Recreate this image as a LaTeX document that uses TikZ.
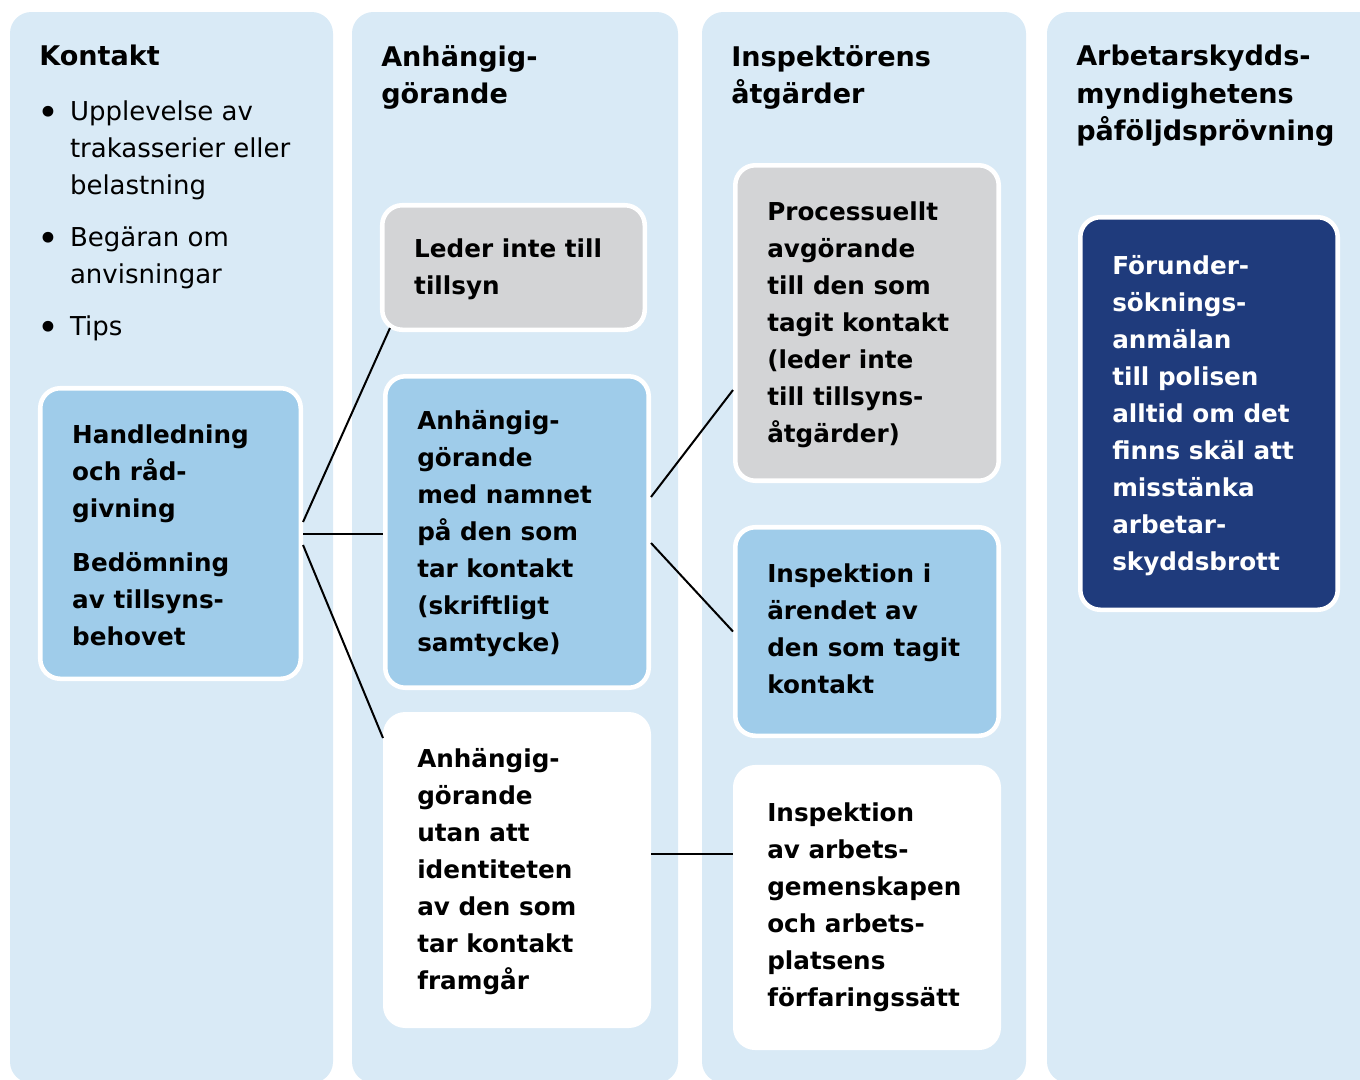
\documentclass[tikz,border=0pt]{standalone}
\usepackage{fontspec}
\setmainfont{DejaVu Sans}
\usetikzlibrary{positioning}

\definecolor{kolumn}{HTML}{D9EAF6}
\definecolor{ljusbla}{HTML}{9FCCEA}
\definecolor{gra}{HTML}{D3D4D6}
\definecolor{marin}{HTML}{1F3B7C}

\newcommand{\punkt}{\makebox[22.3pt][l]{\hspace*{-2.3pt}\raisebox{-4.3pt}{\fontsize{27.8pt}{27.8pt}\selectfont•}}}

\tikzset{
  kolumnbg/.style={fill=kolumn, rounded corners=16pt},
  rubrik/.style={anchor=north west, inner sep=0pt, align=left,
    font=\fontsize{20.3pt}{28.1pt}\selectfont\bfseries},
  lista/.style={anchor=north west, inner sep=0pt, align=left,
    font=\fontsize{19.5pt}{27.75pt}\selectfont},
  ruta/.style={draw=white, line width=3.4pt, rounded corners=15pt, inner sep=0pt},
  rutatext/.style={inner sep=0pt, align=left, yshift=-1.5pt,
    font=\fontsize{18.5pt}{27.75pt}\selectfont\bfseries},
  linje/.style={line width=1.5pt},
}

\begin{document}
\begin{tikzpicture}[x=0.75pt, y=-0.75pt]
            \useasboundingbox (0,0) rectangle (1360,1079);

            % Columns
            \fill[kolumnbg] (10,12) rectangle (333,1083);
            \fill[kolumnbg] (352,12) rectangle (678,1083);
            \fill[kolumnbg] (702,12) rectangle (1026,1083);
            \fill[kolumnbg] (1047,12) rectangle (1385,1083);

            % Headings
            \node[rubrik] (kontakt) at (39,45) {Kontakt};
            \node[rubrik] (anhangig) at (381,45) {Anhängig-\\görande};
            \node[rubrik] (inspektor) at (731,45) {Inspektörens\\åtgärder};
            \node[rubrik] (pafoljd) at (1076,45) {Arbetarskydds-\\myndighetens\\påföljdsprövning};

            \node[lista] (kontaktlista) at (40,100) {%
                \punkt Upplevelse av\\
                \hspace*{22.3pt}trakasserier eller\\
                \hspace*{22.3pt}belastning\\[11.25pt]
                \punkt Begäran om\\
                \hspace*{22.3pt}anvisningar\\[11.25pt]
                \punkt Tips};

            % Boxes
            \node[ruta, fill=ljusbla, minimum width=195.4pt, minimum height=217.9pt] (handledning) at (170.5,533.5) {};
            \node[ruta, fill=gra, minimum width=196.9pt, minimum height=93.4pt] (leder) at (513.5,267.5) {};
            \node[ruta, fill=ljusbla, minimum width=197.6pt, minimum height=233.6pt] (namn) at (517,532) {};
            \node[ruta, fill=white, minimum width=197.6pt, minimum height=233.6pt] (utan) at (517,870) {};
            \node[ruta, fill=gra, minimum width=197.6pt, minimum height=236.6pt] (proc) at (867,323) {};
            \node[ruta, fill=ljusbla, minimum width=197.6pt, minimum height=156.4pt] (arende) at (867,631.5) {};
            \node[ruta, fill=white, minimum width=197.6pt, minimum height=210.4pt] (arbplats) at (867,907.5) {};
            \node[ruta, fill=marin, minimum width=193.1pt, minimum height=294.4pt] (polis) at (1209,413.5) {};

            % Box texts
            \node[rutatext, right=25.5pt of handledning.west] (handledningtext) {Handledning\\och råd-\\givning\\[12.75pt]Bedömning\\av tillsyns-\\behovet};
            \node[rutatext, right=25.5pt of leder.west] (ledertext) {Leder inte till\\tillsyn};
            \node[rutatext, right=25.5pt of namn.west] (namntext) {Anhängig-\\görande\\med namnet\\på den som\\tar kontakt\\(skriftligt\\samtycke)};
            \node[rutatext, right=25.5pt of utan.west] (utantext) {Anhängig-\\görande\\utan att\\identiteten\\av den som\\tar kontakt\\framgår};
            \node[rutatext, right=25.5pt of proc.west] (proctext) {Processuellt\\avgörande\\till den som\\tagit kontakt\\(leder inte\\till tillsyns-\\åtgärder)};
            \node[rutatext, yshift=3.75pt, right=25.5pt of arende.west] (arendetext) {Inspektion i\\ärendet av\\den som tagit\\kontakt};
            \node[rutatext, yshift=1.5pt, right=25.5pt of arbplats.west] (arbplatstext) {Inspektion\\av arbets-\\gemenskapen\\och arbets-\\platsens\\förfaringssätt};
            \node[rutatext, text=white, right=25.5pt of polis.west] (polistext) {Förunder-\\söknings-\\anmälan\\till polisen\\alltid om det\\finns skäl att\\misstänka\\arbetar-\\skyddsbrott};

            % Connecting lines
            \draw[linje] ([shift={(0,-11.5)}]handledning.east) -- ([shift={(10,-4)}]leder.south west);
            \draw[linje] (handledning.east) -- (handledning.east -| namn.west);
            \draw[linje] ([shift={(0,11.5)}]handledning.east) -- ([shift={(0,26)}]utan.north west);
            \draw[linje] ([shift={(0,-35)}]namn.east) -- ([shift={(0,67)}]proc.west);
            \draw[linje] ([shift={(0,11)}]namn.east) -- (arende.west);
            \coordinate (utanut) at ([shift={(0,-16)}]utan.east);
            \draw[linje] (utanut) -- (utanut -| arbplats.west);
        \end{tikzpicture}
\end{document}
